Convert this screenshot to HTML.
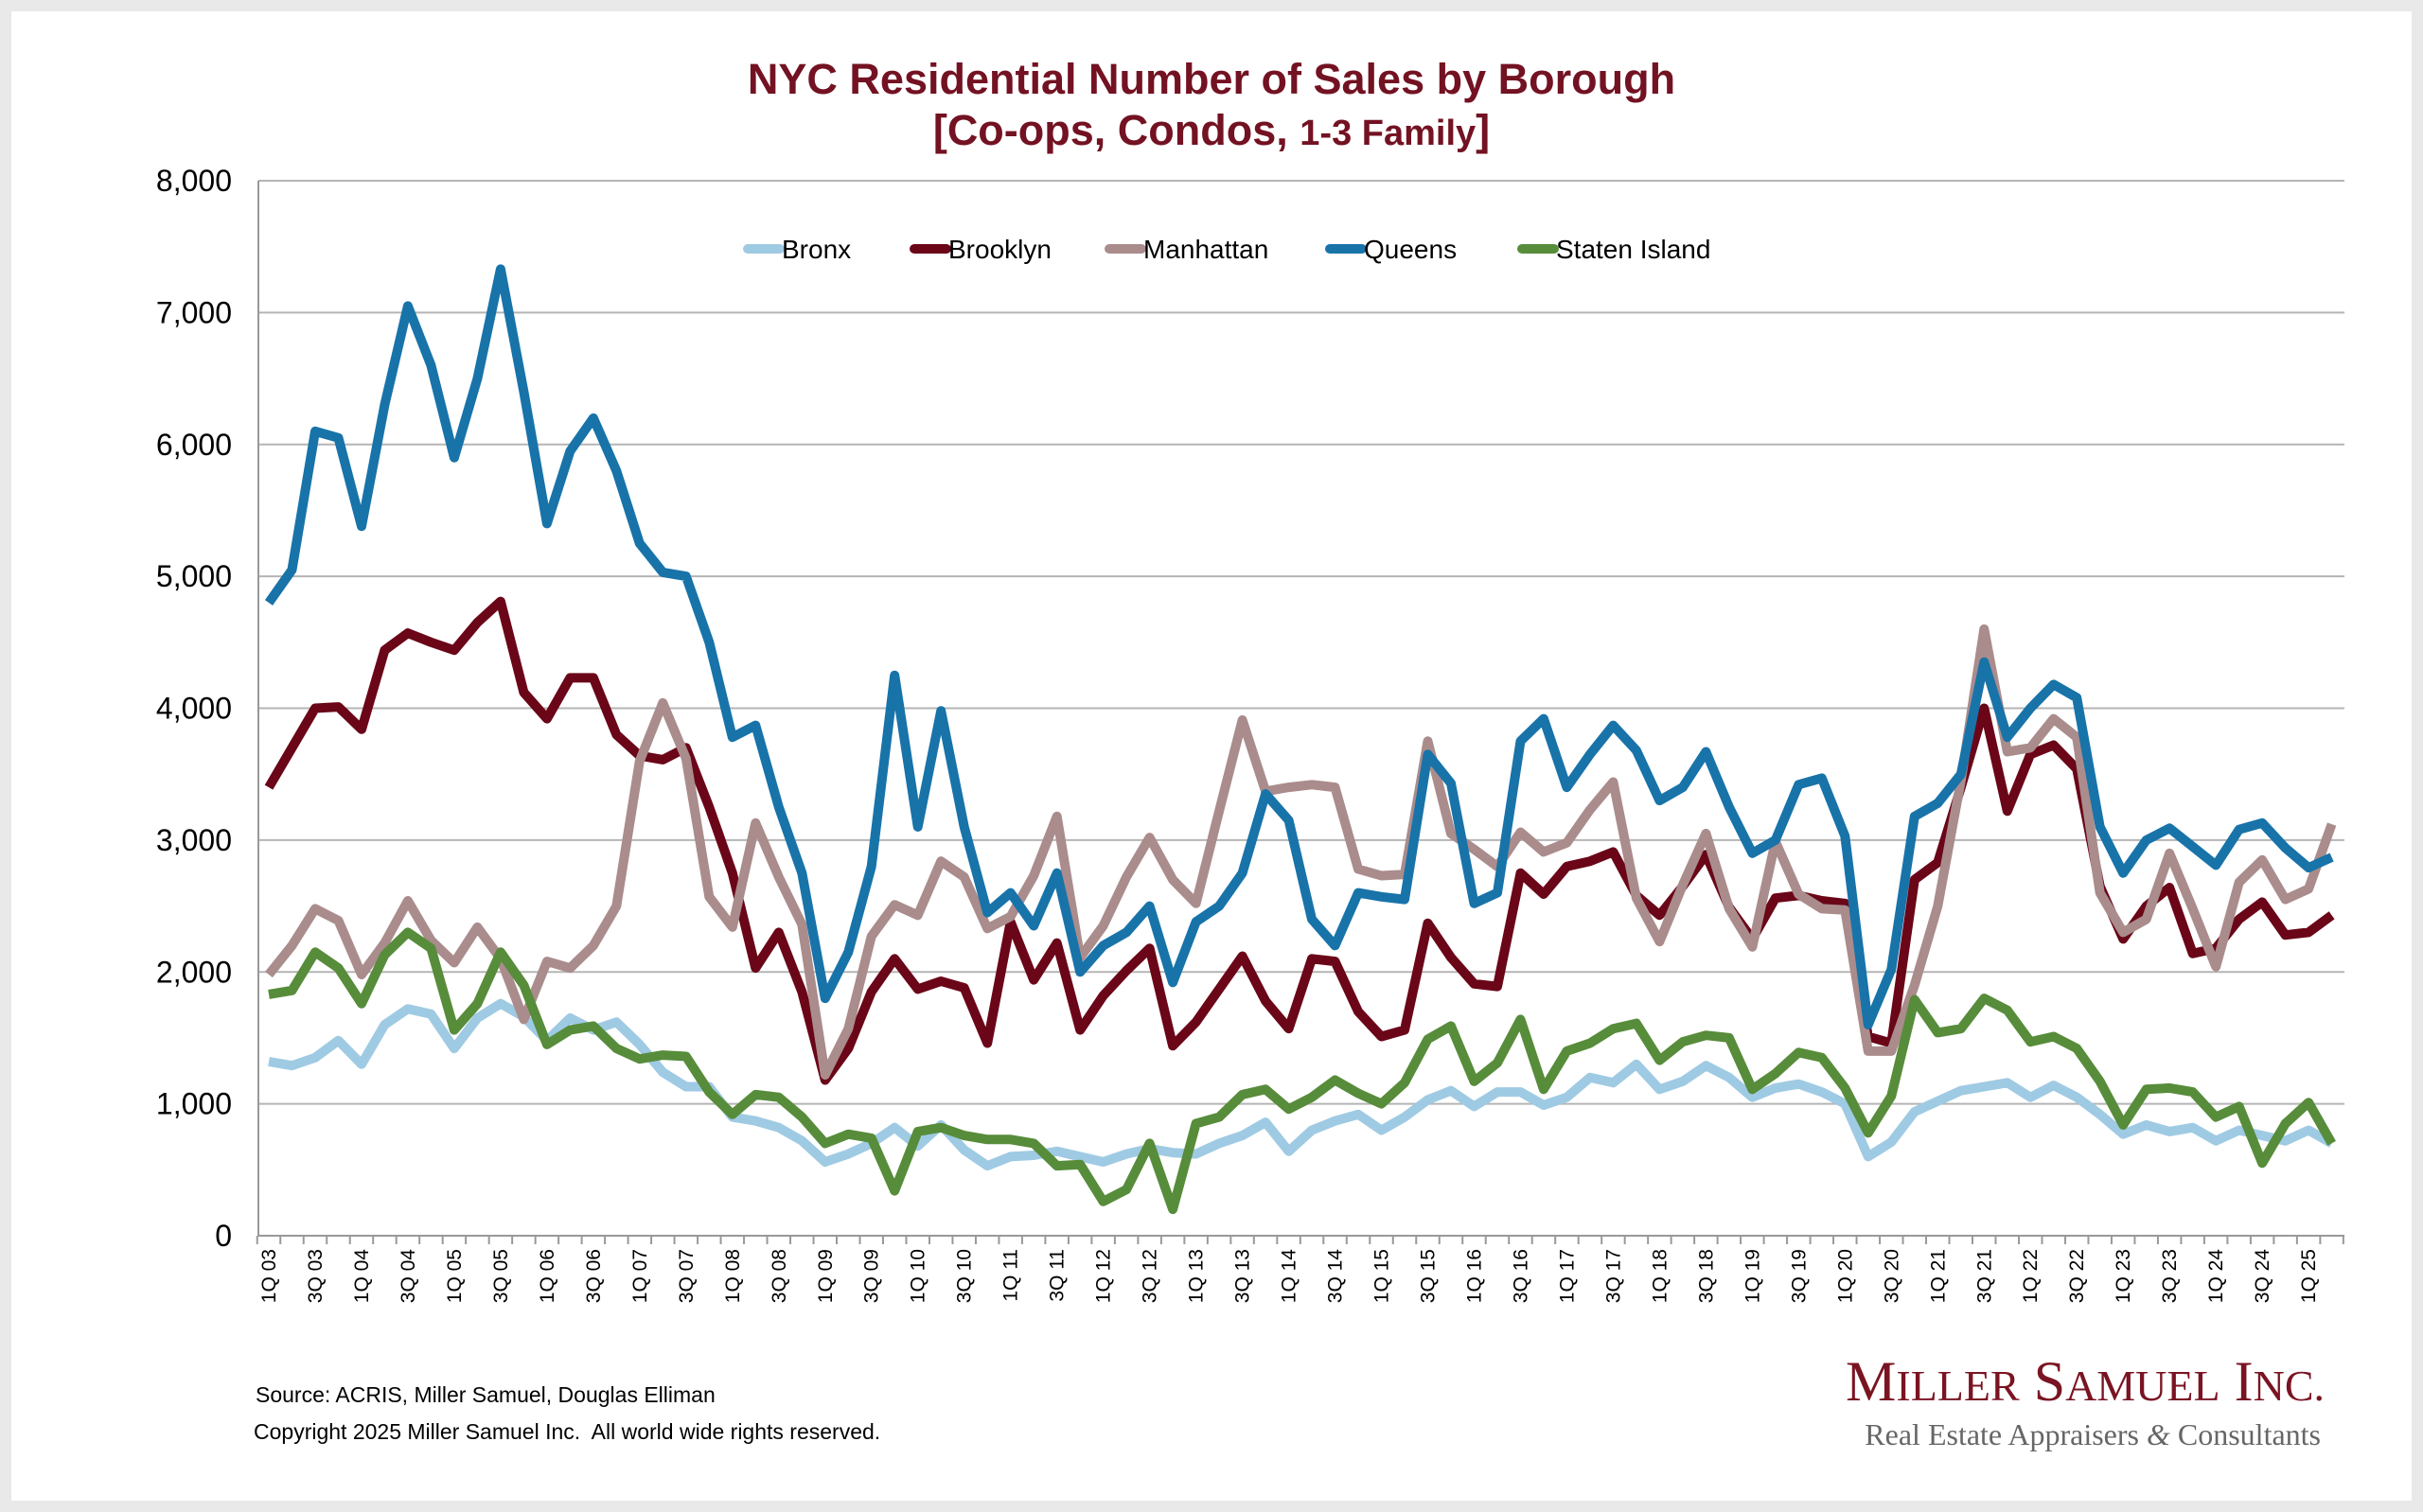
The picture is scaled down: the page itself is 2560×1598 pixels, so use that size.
<!DOCTYPE html>
<html><head><meta charset="utf-8"><style>
html,body{margin:0;padding:0;background:#e9e9e9;}
#wrap{position:absolute;left:12px;top:12px;width:2536px;height:1574px;background:#fff;}
svg{position:absolute;left:0;top:0;}
text{font-family:"Liberation Sans",sans-serif;}
text.serif{font-family:"Liberation Serif",serif;}
</style></head><body>
<div id="wrap"></div>
<svg id="chart" width="2560" height="1598">
<text x="1280" y="99" text-anchor="middle" font-size="45" font-weight="bold" fill="#731222">NYC Residential Number of Sales by Borough</text>
<text x="1280" y="153" text-anchor="middle" font-size="45" font-weight="bold" fill="#731222">[Co-ops, Condos, <tspan font-size="38">1-3 Family</tspan>]</text>
<text x="270" y="1482" font-size="23" fill="#000">Source: ACRIS, Miller Samuel, Douglas Elliman</text>
<text x="268" y="1521" font-size="23" fill="#000">Copyright 2025 Miller Samuel Inc.&#160; All world wide rights reserved.</text>
<text class="serif" x="2456" y="1480" text-anchor="end" font-size="60" fill="#7a1422">M<tspan font-size="46">ILLER</tspan> S<tspan font-size="46">AMUEL</tspan> I<tspan font-size="46">NC.</tspan></text>
<text class="serif" x="2452" y="1527" text-anchor="end" font-size="32" fill="#666">Real Estate Appraisers <tspan font-style="italic">&amp;</tspan> Consultants</text>
</svg>
<script>
const quarters = 90;
const yTicks = [0,1000,2000,3000,4000,5000,6000,7000,8000];
const bronx = [1320,1290,1350,1480,1300,1600,1720,1680,1420,1650,
1760,1660,1480,1650,1560,1620,1450,1240,1130,1130,
900,870,820,720,560,620,700,820,680,840,
650,530,600,610,640,600,560,620,660,630,
620,700,760,860,640,800,870,920,800,900,
1030,1100,980,1090,1090,990,1050,1200,1160,1300,
1110,1170,1290,1200,1050,1120,1150,1090,1000,600,
710,940,1020,1100,1130,1160,1050,1140,1050,920,
770,840,790,820,720,800,760,720,800,700];
const brooklyn = [3400,3700,4000,4010,3840,4440,4570,4500,4440,4650,
4810,4120,3920,4230,4230,3800,3640,3610,3700,3250,
2750,2030,2300,1850,1180,1420,1850,2100,1870,1930,
1880,1460,2380,1940,2220,1560,1820,2010,2180,1440,
1620,1870,2120,1780,1570,2100,2080,1700,1510,1560,
2370,2110,1910,1890,2750,2590,2800,2840,2910,2580,
2430,2650,2890,2490,2250,2560,2580,2540,2520,1510,
1460,2700,2830,3400,4000,3220,3650,3720,3540,2650,
2250,2500,2640,2140,2180,2400,2530,2280,2300,2430];
const manhattan = [1980,2200,2480,2390,1980,2220,2540,2240,2070,2340,
2100,1640,2080,2030,2200,2500,3600,4040,3620,2570,
2340,3130,2720,2360,1220,1570,2270,2510,2430,2840,
2720,2330,2420,2730,3180,2110,2350,2720,3020,2700,
2520,3220,3910,3370,3400,3420,3400,2780,2730,2740,
3750,3050,2930,2800,3060,2910,2980,3230,3440,2560,
2230,2660,3050,2480,2190,2990,2590,2480,2470,1400,
1400,1900,2500,3450,4600,3670,3700,3920,3780,2600,
2300,2400,2900,2480,2040,2680,2850,2550,2630,3120];
const queens = [4800,5050,6100,6050,5380,6300,7050,6600,5900,6500,
7330,6400,5400,5950,6200,5800,5250,5030,5000,4500,
3780,3870,3250,2750,1800,2150,2800,4250,3100,3980,
3100,2450,2600,2350,2750,2000,2200,2300,2500,1920,
2380,2500,2750,3350,3150,2400,2200,2600,2570,2550,
3650,3430,2520,2600,3750,3920,3400,3650,3870,3680,
3300,3400,3670,3250,2900,3000,3420,3470,3030,1600,
2020,3180,3280,3500,4350,3780,4000,4180,4080,3100,
2750,3000,3090,2950,2810,3080,3130,2940,2790,2870];
const staten = [1830,1860,2150,2030,1760,2130,2300,2180,1560,1760,
2150,1900,1450,1560,1590,1420,1340,1370,1360,1090,
920,1070,1050,900,700,770,740,340,790,820,
760,730,730,700,530,540,260,350,700,200,
850,900,1070,1110,960,1050,1180,1080,1000,1160,
1490,1590,1170,1310,1640,1110,1400,1460,1570,1610,
1330,1470,1520,1500,1110,1230,1390,1350,1120,780,
1060,1790,1540,1570,1800,1710,1470,1510,1420,1170,
840,1110,1120,1090,900,980,550,850,1010,700];
const seriesNames = ['Bronx','Brooklyn','Manhattan','Queens','Staten Island'];
const seriesColors = ['#9fcae3','#6a0618','#aa8c8c','#1873a9','#578c3b'];
const allSeries = [bronx,brooklyn,manhattan,queens,staten];

const NS='http://www.w3.org/2000/svg';
const svg=document.getElementById('chart');
const L=273,R=2477,T=191,B=1306,step=24.49,x0=284;
const xS=i=>x0+i*step;
const yS=v=>B-v/8000*(B-T);
function mk(tag,attrs){const e=document.createElementNS(NS,tag);for(const k in attrs)e.setAttribute(k,attrs[k]);svg.appendChild(e);return e;}

yTicks.forEach(v=>{
  const g=mk('line',{x1:L,x2:R,y1:yS(v),y2:yS(v),stroke:v===0?'#999':'#b5b5b5','stroke-width':2});
  
  
  const t=mk('text',{x:245,y:yS(v)+11,'text-anchor':'end','font-size':32,fill:'#000'});
  t.textContent=v.toLocaleString('en-US');
  
  
});
const ya=mk('line',{x1:L,x2:L,y1:T,y2:B,stroke:'#999','stroke-width':2});


for(let i=0;i<=quarters;i++){
  const xx=x0-step/2+i*step;
  const tk=mk('line',{x1:xx,x2:xx,y1:B,y2:B+9,stroke:'#999','stroke-width':2});
  
  
}
for(let i=0;i<quarters;i+=2){
  const yr=String(3+Math.floor(i/4)).padStart(2,'0');
  const lab=(i%4===0?'1Q ':'3Q ')+yr;
  const t=mk('text',{x:0,y:0,'text-anchor':'end','font-size':21,fill:'#000',transform:`translate(${xS(i)+7},${B+14}) rotate(-90)`});
  t.textContent=lab;
  
  
}
allSeries.forEach((s,k)=>{
  const d=s.map((v,i)=>(i?'L':'M')+xS(i).toFixed(1)+' '+yS(v).toFixed(1)).join(' ');
  const p=mk('path',{d:d,fill:'none',stroke:seriesColors[k],'stroke-width':10,'stroke-linejoin':'round'});
  
  
});
const legX=[790,966,1172,1405,1608];
seriesNames.forEach((n,k)=>{
  const ln=mk('line',{x1:legX[k],x2:legX[k]+34,y1:263,y2:263,stroke:seriesColors[k],'stroke-width':10,'stroke-linecap':'round'});
  
  
  const t=mk('text',{x:legX[k]+36,y:273,'font-size':28,fill:'#000'});
  t.textContent=n;
  
  
});
</script>
</body></html>
